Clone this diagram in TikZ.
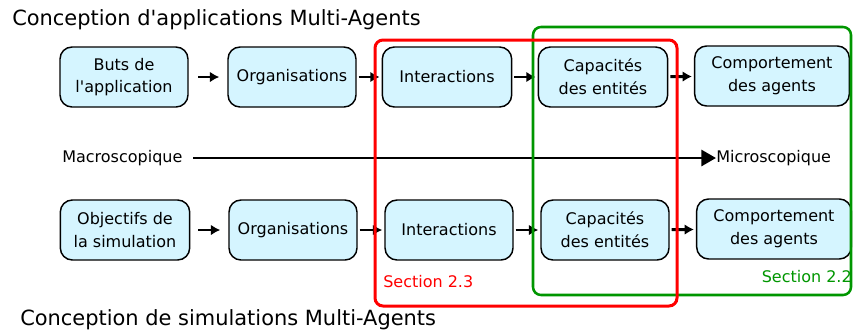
\documentclass[tikz,border=0pt]{standalone}
\usepackage{fontspec}
\setmainfont{DejaVu Sans}
\usetikzlibrary{arrows.meta}
\definecolor{BoxFill}{RGB}{213,245,255}
\definecolor{SectionRed}{RGB}{255,0,0}
\definecolor{SectionGreen}{RGB}{0,150,0}
\tikzstyle{etape} = [draw, line width=1.1pt, rounded corners=9pt, fill=BoxFill, minimum height=45pt, align=center, font=\fontsize{12}{17}\selectfont, inner sep=2pt]
\tikzstyle{arrow} = [line width=2.2pt, -{Latex[length=7pt,width=8pt]}, shorten <=1.5pt, shorten >=1.5pt]
\tikzstyle{scalearrow} = [line width=2.2pt, -{Triangle[length=11pt,width=12pt]}, shorten <=8pt]
\tikzstyle{legend} = [inner sep=0pt, font=\fontsize{12}{14}\selectfont]
\tikzstyle{titre} = [inner sep=0pt, anchor=west, font=\fontsize{15.7}{18}\selectfont]

\begin{document}
\begin{tikzpicture}[x=0.75pt, y=-0.75pt]
    \useasboundingbox (0,0) rectangle (853,333);

    % Titles
    \node[titre] (titreA) at (12,20) {Conception d\textquotesingle applications Multi-Agents};
    \node[titre] (titreS) at (20,320) {Conception de simulations Multi-Agents};

    % Applications row
    \node[etape, minimum width=96pt] (butsA) at (124,77) {Buts de\\l\textquotesingle application};
    \node[etape, minimum width=96pt] (orgA) at (292,77) {Organisations};
    \node[etape, minimum width=97pt] (interA) at (447,77) {Interactions};
    \node[etape, minimum width=97pt] (capA) at (603,77) {Capacités\\des entités};
    \node[etape, minimum width=116pt] (compA) at (772,76) {Comportement\\des agents};

    \draw[arrow, shorten <=7pt, shorten >=6pt] (butsA) -- (orgA);
    \draw[arrow] (orgA) -- (interA);
    \draw[arrow] (interA) -- (capA);
    \draw[arrow] (capA) -- (compA);

    % Macro -> micro scale
    \node[legend, anchor=west] (macro) at (62,158) {Macroscopique};
    \node[legend, anchor=west] (micro) at (716,158) {Microscopique};
    \draw[scalearrow] (macro) -- (micro);

    % Simulations row
    \node[etape, minimum width=97pt] (objS) at (125,230) {Objectifs de\\la simulation};
    \node[etape, minimum width=96pt] (orgS) at (293,230) {Organisations};
    \node[etape, minimum width=96pt] (interS) at (449,230) {Interactions};
    \node[etape, minimum width=96pt] (capS) at (605,230) {Capacités\\des entités};
    \node[etape, minimum width=116pt] (compS) at (774,229) {Comportement\\des agents};

    \draw[arrow, shorten <=6pt, shorten >=6pt] (objS) -- (orgS);
    \draw[arrow] (orgS) -- (interS);
    \draw[arrow] (interS) -- (capS);
    \draw[arrow] (capS) -- (compS);

    % Sections
    \draw[SectionGreen, line width=1.9pt, rounded corners=6pt] (533,27) rectangle (851,295);
    \draw[SectionRed, line width=2.25pt, rounded corners=6pt] (375,40) rectangle (677,306);
    \node[legend, anchor=west, text=SectionRed] (sec23) at (383,282) {Section 2.3};
    \node[legend, anchor=east, text=SectionGreen] (sec22) at (852,277) {Section 2.2};
\end{tikzpicture}
\end{document}
